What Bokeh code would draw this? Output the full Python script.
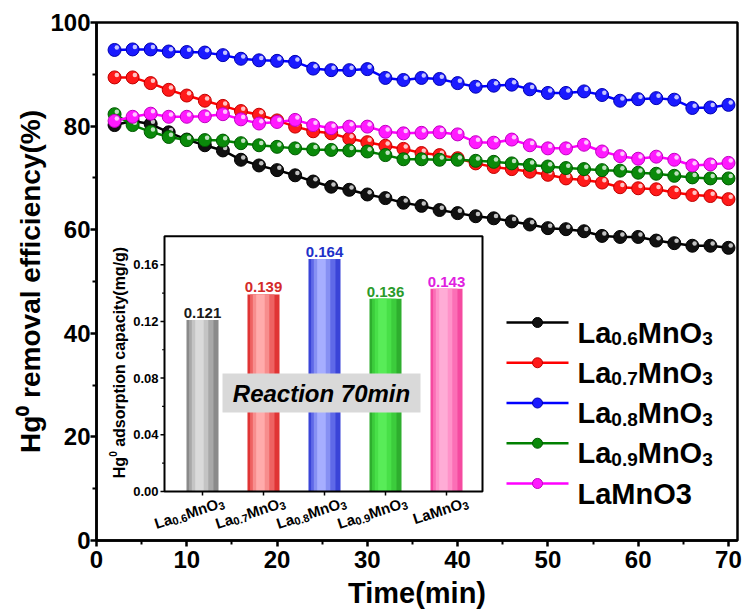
import math
from bokeh.plotting import figure
from bokeh.models import Range1d, FixedTicker, ColumnDataSource
from bokeh.embed import file_html
from bokeh.resources import INLINE
from bokeh.core.properties import value
from bokeh.transform import dodge

# ---------------- data ----------------
time_min = [2, 4, 6, 8, 10, 12, 14, 16, 18, 20, 22, 24, 26, 28, 30, 32, 34, 36,
            38, 40, 42, 44, 46, 48, 50, 52, 54, 56, 58, 60, 62, 64, 66, 68, 70]
la06 = [80.2, 81.0, 80.4, 78.8, 77.4, 76.3, 75.3, 73.5, 72.4, 71.5, 70.5, 69.3,
        68.3, 67.7, 66.8, 66.1, 65.2, 64.6, 63.8, 63.2, 62.6, 62.2, 61.6, 61.0,
        60.3, 60.1, 59.7, 58.8, 58.6, 58.6, 57.9, 57.4, 56.9, 56.9, 56.5]
la07 = [89.4, 89.4, 88.3, 87.0, 85.9, 84.9, 83.9, 82.9, 82.2, 81.1, 79.9, 79.0,
        78.6, 77.6, 76.9, 76.2, 75.6, 74.8, 74.4, 73.8, 72.8, 72.1, 71.7, 71.2,
        70.6, 69.9, 69.6, 69.1, 68.2, 68.0, 67.8, 67.2, 66.7, 66.5, 65.9]
la08 = [94.7, 94.8, 94.8, 94.4, 94.3, 94.2, 93.7, 93.0, 92.7, 92.6, 92.4, 91.1,
        90.8, 90.8, 91.0, 89.3, 88.9, 89.3, 89.1, 88.3, 87.6, 87.8, 88.0, 87.1,
        86.4, 86.4, 86.7, 86.0, 84.9, 85.2, 85.4, 85.1, 83.5, 83.6, 84.1]
la09 = [82.3, 80.2, 78.9, 77.9, 77.3, 77.3, 77.2, 76.7, 76.3, 76.0, 75.7, 75.5,
        75.4, 75.3, 75.1, 74.4, 73.6, 73.6, 73.5, 73.5, 73.3, 73.1, 72.8, 72.5,
        72.2, 71.9, 71.7, 71.5, 71.4, 71.0, 70.8, 70.4, 70.1, 69.9, 69.9]
lamno3 = [81.0, 81.8, 82.4, 81.8, 81.8, 81.9, 82.3, 81.3, 80.5, 80.8, 81.2, 80.2,
          79.6, 79.9, 79.9, 78.9, 78.6, 78.7, 78.8, 78.4, 76.9, 76.8, 77.4, 76.3,
          75.7, 75.7, 76.4, 75.1, 74.2, 73.7, 74.1, 73.5, 72.4, 72.6, 72.9]

la_ratio = ["0.6", "0.7", "0.8", "0.9", ""]          # subscript of La in names
legend_names = ["La0.6MnO3", "La0.7MnO3", "La0.8MnO3", "La0.9MnO3", "LaMnO3"]
capacity = [0.121, 0.139, 0.164, 0.136, 0.143]         # inset bar values (mg/g)
capacity_text = ["0.121", "0.139", "0.164", "0.136", "0.143"]
bar_index = [1, 2, 3, 4, 5]

x_ticks = [0, 10, 20, 30, 40, 50, 60, 70]
x_minor = [5, 15, 25, 35, 45, 55, 65]
y_ticks = [0, 20, 40, 60, 80, 100]
y_minor = [10, 30, 50, 70, 90]
inset_y_ticks = [0.00, 0.04, 0.08, 0.12, 0.16]
inset_y_tick_text = ["0.00", "0.04", "0.08", "0.12", "0.16"]
inset_y_minor = [0.02, 0.06, 0.10, 0.14]

# ---------------- styles ----------------
line_colors = ["#000000", "#ff0000", "#0000ff", "#008000", "#ff00ff"]
fill_colors = ["#111111", "#ff1a1a", "#1a1aff", "#0a8a0a", "#ff1aff"]
edge_colors = ["#000000", "#c00000", "#0000b0", "#005a00", "#c000c0"]
label_colors = ["#1a1a1a", "#d42a2a", "#2030c8", "#2a9a2a", "#e020e0"]
bar_shades = [
    ["#8a8a8a", "#a8a8a8", "#c4c4c4", "#dadada"],
    ["#e03434", "#ee6262", "#f78d8d", "#ffabab"],
    ["#3a44d8", "#5f69e8", "#8690f3", "#a6aeff"],
    ["#2eae2e", "#3ccc3c", "#48e048", "#58ec58"],
    ["#f54aa0", "#fb6fb6", "#ff92c9", "#ffacd6"],
]
FONT = "Liberation Sans"

# layout (page pixels)
W_FIG, H_FIG = 744, 611
FL, FR, FT, FB = 96, 737, 22, 540
BAR1_PX, BAR_PITCH, IZERO_PX, ISCALE = 202, 61.0, 491, 1417.5

p = figure(width=W_FIG, height=H_FIG, x_range=Range1d(0, 71), y_range=Range1d(0, 100),
           output_backend="svg", toolbar_location=None,
           min_border_left=FL, min_border_right=W_FIG - FR,
           min_border_top=FT, min_border_bottom=H_FIG - FB)
p.background_fill_color = "white"
p.border_fill_color = "white"
p.grid.visible = False
p.outline_line_color = "black"
p.outline_line_width = 2.5

p.extra_x_ranges = {
    "px": Range1d(FL, FR),
    "ix": Range1d(1 + (FL - BAR1_PX) / BAR_PITCH, 1 + (FR - BAR1_PX) / BAR_PITCH),
}
p.extra_y_ranges = {
    "py": Range1d(FB, FT),
    "iy": Range1d((IZERO_PX - FB) / ISCALE, (IZERO_PX - FT) / ISCALE),
}

p.xaxis.ticker = FixedTicker(ticks=x_ticks, minor_ticks=x_minor)
p.yaxis.ticker = FixedTicker(ticks=y_ticks, minor_ticks=y_minor)
for ax in (p.xaxis[0], p.yaxis[0]):
    ax.axis_line_width = 2.5
    ax.major_tick_line_width = 2.5
    ax.minor_tick_line_width = 2
    ax.major_tick_out = 6
    ax.major_tick_in = 0
    ax.minor_tick_out = 4
    ax.minor_tick_in = 0
    ax.major_label_text_font = FONT
    ax.major_label_text_font_style = "bold"
    ax.major_label_text_font_size = "24px"
    ax.major_label_text_color = "black"
    ax.axis_label_text_font = FONT
    ax.axis_label_text_font_style = "bold"
    ax.axis_label_text_color = "black"
p.xaxis.major_label_standoff = 4
p.yaxis.major_label_standoff = 0
p.xaxis.axis_label = "Time(min)"
p.xaxis.axis_label_text_font_size = "29px"
p.xaxis.axis_label_standoff = 6
p.yaxis.axis_label = "Hg\u2070 removal efficiency(%)"
p.yaxis.axis_label_text_font_size = "28px"
p.yaxis.axis_label_standoff = 1

# ---------------- main series ----------------
series = [la06, la07, la08, la09, lamno3]
for ys, lc, fc, ec in zip(series, line_colors, fill_colors, edge_colors):
    src = ColumnDataSource(dict(x=time_min, y=ys))
    p.line("x", "y", source=src, line_color=lc, line_width=2.5)
    p.scatter("x", "y", source=src, size=13, fill_color=fc, line_color=ec, line_width=1)
    p.scatter(x=dodge("x", 0.25), y=dodge("y", 0.45), source=src, size=4.5,
              fill_color="white", fill_alpha=0.75, line_color=None)

# ---------------- text helpers ----------------
ARIAL_B = {' ': 278, '(': 333, ')': 333, '%': 889, '.': 278, '/': 278, 'H': 722, 'L': 611,
           'M': 833, 'O': 778, 'R': 722, 'T': 611, 'a': 556, 'c': 556, 'd': 611, 'e': 556,
           'f': 333, 'g': 611, 'i': 278, 'l': 278, 'm': 889, 'n': 611, 'o': 611, 'p': 611,
           'r': 389, 's': 556, 't': 333, 'v': 556, 'y': 556}


def tw(s, size):
    return sum(ARIAL_B.get(ch, 556) for ch in s) * size / 1000.0


def compose(parts, angle_deg):
    """Lay pieces along a (rotated) baseline; leading spaces become offsets."""
    th = math.radians(angle_deg)
    c, s = math.cos(th), math.sin(th)
    out, d = [], 0.0
    for text, size, shift in parts:
        stripped = text.lstrip(" ")
        d += tw(text[:len(text) - len(stripped)], size)
        out.append((stripped, size, d * c + shift * s, -d * s + shift * c))
        d += tw(stripped, size)
    return out, d


# ---------------- legend ----------------
leg_y = [322 + 40.25 * i for i in range(5)]
for i, (name, ratio) in enumerate(zip(legend_names, la_ratio)):
    yc = leg_y[i]
    p.segment(x0=[506], x1=[568], y0=[yc], y1=[yc], x_range_name="px", y_range_name="py",
              line_color=line_colors[i], line_width=2.5)
    p.scatter(x=[537], y=[yc], x_range_name="px", y_range_name="py", size=10,
              fill_color=fill_colors[i], line_color=edge_colors[i], line_width=1)
    if ratio:
        parts = [("La", 29, 0), (ratio, 19, 6), ("MnO", 29, 0), ("3", 19, 6)]
    else:
        parts = [(name, 29, 0)]
    out, _ = compose(parts, 0)
    src = ColumnDataSource(dict(x=[577 + o[2] for o in out], y=[yc + 10 + o[3] for o in out],
                                text=[o[0] for o in out], size=[f"{o[1]}px" for o in out]))
    p.text("x", "y", text="text", source=src, x_range_name="px", y_range_name="py",
           text_font=value(FONT), text_font_size="size", text_font_style="bold",
           text_color="black", text_align="left", text_baseline="alphabetic")

# ---------------- inset ----------------
IX0 = 1 + (164 - BAR1_PX) / BAR_PITCH
IX1 = 1 + (482 - BAR1_PX) / BAR_PITCH
IY1 = 0.18
p.quad(left=[IX0], right=[IX1], bottom=[0], top=[IY1], x_range_name="ix", y_range_name="iy",
       fill_color="white", line_color=None)

widths = [0.525, 0.40, 0.27, 0.14]
shifts = [0.0, -0.02, -0.04, -0.05]
for k in range(4):
    src = ColumnDataSource(dict(x=bar_index, top=capacity,
                                color=[bar_shades[j][k] for j in range(5)]))
    p.vbar(x=dodge("x", shifts[k]), top="top", bottom=0, width=widths[k], source=src,
           x_range_name="ix", y_range_name="iy", fill_color="color", line_color=None)

# value labels above bars
vsrc = ColumnDataSource(dict(x=bar_index, y=capacity, text=capacity_text, color=label_colors))
p.text("x", "y", text="text", source=vsrc, x_range_name="ix", y_range_name="iy",
       text_color="color", text_font=value(FONT), text_font_size="15px",
       text_font_style="bold", text_align="center", text_baseline="bottom", y_offset=-2)

# inset frame
p.quad(left=[IX0], right=[IX1], bottom=[0], top=[IY1], x_range_name="ix", y_range_name="iy",
       fill_color=None, line_color="black", line_width=2)

# inset y ticks
tick_dx = 4 / BAR_PITCH
p.segment(x0=[IX0] * len(inset_y_ticks), x1=[IX0 - tick_dx] * len(inset_y_ticks),
          y0=inset_y_ticks, y1=inset_y_ticks, x_range_name="ix", y_range_name="iy",
          line_color="black", line_width=1.5)
p.segment(x0=[IX0] * len(inset_y_minor), x1=[IX0 - tick_dx * 0.6] * len(inset_y_minor),
          y0=inset_y_minor, y1=inset_y_minor, x_range_name="ix", y_range_name="iy",
          line_color="black", line_width=1.2)
tsrc = ColumnDataSource(dict(x=[IX0] * len(inset_y_ticks), y=inset_y_ticks, text=inset_y_tick_text))
p.text("x", "y", text="text", source=tsrc, x_range_name="ix", y_range_name="iy",
       text_font=value(FONT), text_font_size="13px", text_font_style="bold",
       text_align="right", text_baseline="middle", x_offset=-6, text_color="black")

# inset x ticks
p.segment(x0=bar_index, x1=bar_index, y0=[0] * 5, y1=[-4 / ISCALE] * 5,
          x_range_name="ix", y_range_name="iy", line_color="black", line_width=1.5)

# inset x tick labels (rotated, with subscripts)
ANG = 18
rows = dict(x=[], y=[], text=[], size=[], xo=[], yo=[])
for idx, ratio in zip(bar_index, la_ratio):
    if ratio:
        parts = [("La", 15, 0), (ratio, 11, 3.5), ("MnO", 15, 0), ("3", 11, 3.5)]
    else:
        parts = [("LaMnO", 15, 0), ("3", 11, 3.5)]
    out, L = compose(parts, ANG)
    c, s = math.cos(math.radians(ANG)), math.sin(math.radians(ANG))
    sx0, sy0 = 21 - L * c, 10 + L * s
    for text, size, dx, dy in out:
        rows["x"].append(idx)
        rows["y"].append(0)
        rows["text"].append(text)
        rows["size"].append(f"{size}px")
        rows["xo"].append(sx0 + dx)
        rows["yo"].append(sy0 + dy)
p.text("x", "y", text="text", source=ColumnDataSource(rows), x_range_name="ix",
       y_range_name="iy", text_font=value(FONT), text_font_size="size",
       text_font_style="bold", text_color="black", text_align="left",
       text_baseline="alphabetic", x_offset="xo", y_offset="yo", angle=math.radians(ANG))

# inset y title
ititle = [("Hg", 16, 0), ("0", 10, -6.5), (" adsorption capacity(mg/g)", 16, 0)]
out, L = compose(ititle, 90)
isrc = ColumnDataSource(dict(x=[119 + o[2] for o in out], y=[362 + L / 2 + o[3] for o in out],
                             text=[o[0] for o in out], size=[f"{o[1]}px" for o in out]))
p.text("x", "y", text="text", source=isrc, x_range_name="px", y_range_name="py",
       text_font=value(FONT), text_font_size="size", text_font_style="bold",
       text_color="black", text_align="left", text_baseline="alphabetic",
       angle=math.pi / 2)

# "Reaction 70min" box
bx, by = 1 + (321 - BAR1_PX) / BAR_PITCH, (IZERO_PX - 392.5) / ISCALE
p.rect(x=[bx], y=[by], width=198, height=39, width_units="screen", height_units="screen",
       x_range_name="ix", y_range_name="iy", fill_color="#d9d9d9", line_color=None)
p.text(x=[bx], y=[by], text=["Reaction 70min"], x_range_name="ix", y_range_name="iy",
       text_font=value(FONT), text_font_size="24px", text_font_style="bold italic",
       text_color="black", text_align="center", text_baseline="middle")

open("out.html", "w").write(file_html(p, INLINE))
